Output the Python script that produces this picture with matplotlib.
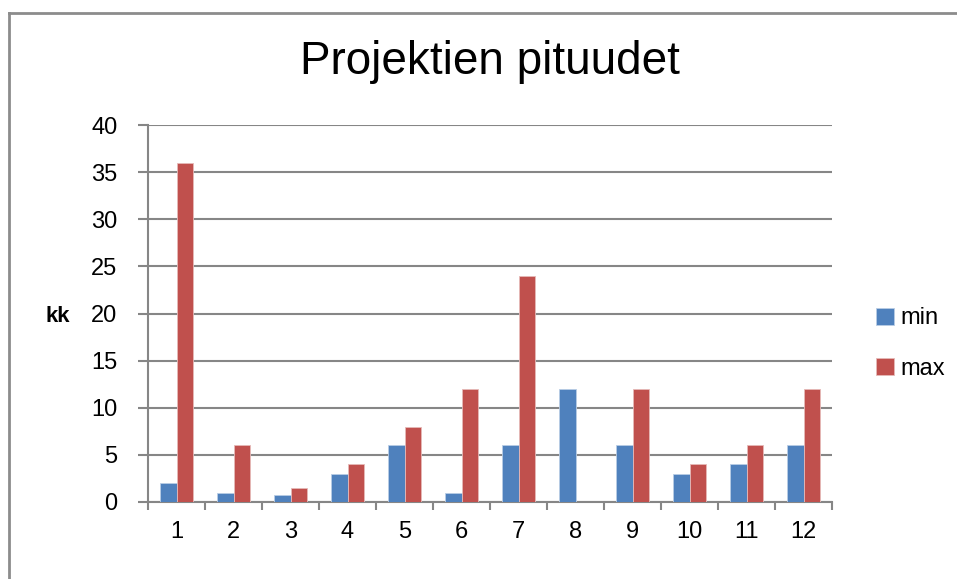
import numpy as np
import matplotlib.pyplot as plt
from matplotlib.lines import Line2D

plt.rcParams['font.family'] = ['Liberation Sans Narrow', 'Liberation Sans', 'DejaVu Sans']

categories = ['1', '2', '3', '4', '5', '6', '7', '8', '9', '10', '11', '12']
min_vals = [2, 1, 0.75, 3, 6, 1, 6, 12, 6, 3, 4, 6]
max_vals = [36, 6, 1.5, 4, 8, 12, 24, 0, 12, 4, 6, 12]

blue = '#4f81bd'
red = '#c0504d'
grid_col = '#868686'

fig = plt.figure(figsize=(9.57, 5.79), dpi=100)
ax = fig.add_axes([148 / 957, 1 - 502 / 579, (832 - 148) / 957, (502 - 125) / 579])

x = np.arange(len(categories))
w = 0.29
ax.bar(x - w / 2, min_vals, w, color=blue, edgecolor='#b9cde5', linewidth=0.6, label='min', zorder=3)
ax.bar(x + w / 2, max_vals, w, color=red, edgecolor='#e6b9b8', linewidth=0.6, label='max', zorder=3)

ax.set_xlim(-0.5, len(categories) - 0.5)
ax.set_ylim(0, 40)
ax.set_yticks(range(0, 41, 5))
ax.set_xticks(x)
ax.set_xticklabels(categories)
ax.set_xticks(np.arange(-0.5, len(categories)), minor=True)
ax.tick_params(axis='x', which='major', length=0, pad=14, labelsize=17)
ax.tick_params(axis='x', which='minor', length=6, width=1.5, color=grid_col, direction='out')
ax.tick_params(axis='y', length=7, width=1.5, color=grid_col, labelsize=17, pad=15)
ax.yaxis.grid(True, color=grid_col, linewidth=1.5, zorder=0)
ax.set_axisbelow(True)
for s in ['top', 'right']:
    ax.spines[s].set_visible(False)
for s in ['left', 'bottom']:
    ax.spines[s].set_color(grid_col)
    ax.spines[s].set_linewidth(1.5)

fig.text(58 / 957, 1 - 316 / 579, 'kk', fontsize=16, fontweight='bold', ha='center', va='center')
fig.text(490 / 957, 1 - 62 / 579, 'Projektien pituudet', fontsize=33, ha='center', va='center')

leg = ax.legend(loc='center left', bbox_to_anchor=(1.033, 0.42), frameon=False, fontsize=17,
                handlelength=0.75, handleheight=0.75, labelspacing=1.2, handletextpad=0.3)

# outer chart frame (top and left edges visible)
fig.add_artist(Line2D([9 / 957, 1.0], [1 - 13 / 579, 1 - 13 / 579], transform=fig.transFigure,
                      color='#8c8c8c', linewidth=2))
fig.add_artist(Line2D([9 / 957, 9 / 957], [0, 1 - 13 / 579], transform=fig.transFigure,
                      color='#8c8c8c', linewidth=2))

fig.savefig('out.png', dpi=100)
